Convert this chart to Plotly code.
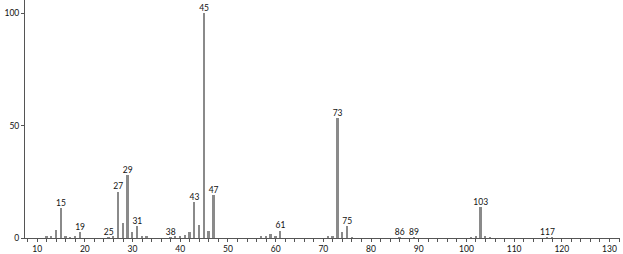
import plotly.graph_objects as go

mz = [12, 13, 14, 15, 16, 17, 18, 19, 25, 26, 27, 28, 29, 30, 31, 32, 33,
      38, 39, 40, 41, 42, 43, 44, 45, 46, 47, 57, 58, 59, 60, 61,
      71, 72, 73, 74, 75, 76, 86, 89, 101, 102, 103, 104, 105, 117, 118]
intensity = [0.6, 1.0, 3.7, 13.5, 0.6, 0.4, 0.5, 2.8, 0.4, 0.5, 20.7, 6.5, 28.1, 2.6, 5.2, 0.7, 0.5,
             0.4, 0.6, 0.5, 1.5, 2.6, 16.2, 6.0, 100, 2.9, 19.3, 0.6, 0.8, 1.8, 0.5, 3.3,
             0.5, 0.9, 53.4, 2.8, 5.2, 0.4, 0.3, 0.3, 0.4, 0.9, 13.7, 1.0, 0.3, 0.3, 0.3]
labeled = [15, 19, 25, 27, 29, 31, 38, 43, 45, 47, 61, 73, 75, 86, 89, 103, 117]

lab_y = [intensity[mz.index(m)] for m in labeled]
lab_t = [str(m) for m in labeled]

fig = go.Figure()
fig.add_trace(go.Bar(x=mz, y=intensity, width=0.38,
                     marker=dict(color="#8a8a8a", line=dict(width=0))))
fig.add_trace(go.Scatter(x=labeled, y=lab_y, text=lab_t, mode="text",
                         textposition="top center",
                         textfont=dict(family="Lato", size=8.5, color="#111"),
                         cliponaxis=False))

fig.update_layout(
    width=623, height=254,
    margin=dict(l=25, r=3, t=0, b=16),
    plot_bgcolor="white", paper_bgcolor="white",
    showlegend=False,
    font=dict(family="Lato", size=8.5, color="#111"),
    bargap=0,
)
fig.update_xaxes(range=[7.45, 132.2], showline=True, linecolor="#555", linewidth=1,
                 tickmode="linear", tick0=10, dtick=10, ticks="outside", ticklen=3,
                 tickcolor="#555", showgrid=False, zeroline=False,
                 minor=dict(dtick=2, tick0=10, ticks="outside", ticklen=3, tickcolor="#555"))
fig.update_yaxes(range=[0, 106], showline=True, linecolor="#555", linewidth=1,
                 tickvals=[0, 50, 100], ticks="outside", ticklen=3, tickcolor="#555",
                 showgrid=False, zeroline=False)

fig.write_html("out.html")
